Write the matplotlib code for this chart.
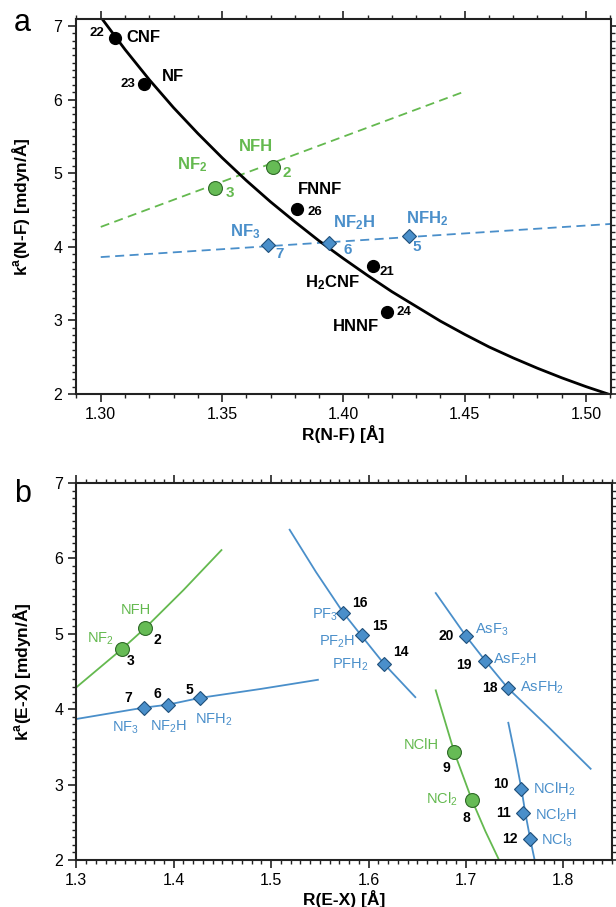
import matplotlib
matplotlib.use("Agg")
import matplotlib.pyplot as plt
from matplotlib.ticker import MultipleLocator

plt.rcParams['font.family'] = ['Liberation Sans', 'DejaVu Sans']
plt.rcParams['mathtext.default'] = 'regular'

GREEN = '#64b94f'
BLUE = '#4a8fca'
GREEN_FILL = '#66bb55'
BLUE_FILL = '#4a8fca'

# ---------------- panel a data ----------------
# black N-F points
a_black_R = [1.306, 1.318, 1.381, 1.412, 1.418]
a_black_k = [6.84, 6.21, 4.51, 3.74, 3.11]
a_black_num = ['22', '23', '26', '21', '24']
a_black_name = ['CNF', 'NF', 'FNNF', 'H$_2$CNF', 'HNNF']

a_green_R = [1.347, 1.371]
a_green_k = [4.80, 5.08]
a_green_num = ['3', '2']
a_green_name = ['NF$_2$', 'NFH']

a_blue_R = [1.369, 1.394, 1.427]
a_blue_k = [4.02, 4.05, 4.15]
a_blue_num = ['7', '6', '5']
a_blue_name = ['NF$_3$', 'NF$_2$H', 'NFH$_2$']

# black fit curve
a_curve_R = [1.300, 1.310, 1.320, 1.330, 1.340, 1.350, 1.360, 1.370, 1.380, 1.390, 1.400,
             1.410, 1.420, 1.430, 1.440, 1.450, 1.460, 1.470, 1.480, 1.490, 1.500, 1.510]
a_curve_k = [7.12, 6.68, 6.27, 5.89, 5.54, 5.21, 4.90, 4.61, 4.34, 4.08, 3.84,
             3.61, 3.39, 3.19, 2.99, 2.81, 2.64, 2.49, 2.35, 2.22, 2.10, 1.99]
a_green_line_R = [1.30, 1.45]
a_green_line_k = [4.27, 6.11]
a_blue_line_R = [1.30, 1.51]
a_blue_line_k = [3.86, 4.31]

# ---------------- panel b data ----------------
b_green_R = [1.347, 1.371, 1.688, 1.706]
b_green_k = [4.80, 5.08, 3.43, 2.80]
b_green_num = ['3', '2', '9', '8']
b_green_name = ['NF$_2$', 'NFH', 'NClH', 'NCl$_2$']

b_blue_R = [1.369, 1.394, 1.427, 1.574, 1.593, 1.616, 1.700, 1.720, 1.743, 1.757, 1.759, 1.766]
b_blue_k = [4.02, 4.06, 4.15, 5.28, 4.98, 4.60, 4.97, 4.64, 4.28, 2.94, 2.62, 2.28]
b_blue_num = ['7', '6', '5', '16', '15', '14', '20', '19', '18', '10', '11', '12']
b_blue_name = ['NF$_3$', 'NF$_2$H', 'NFH$_2$', 'PF$_3$', 'PF$_2$H', 'PFH$_2$',
               'AsF$_3$', 'AsF$_2$H', 'AsFH$_2$', 'NClH$_2$', 'NCl$_2$H', 'NCl$_3$']

b_nf_green_R = [1.300, 1.347, 1.371, 1.410, 1.449]
b_nf_green_k = [4.29, 4.80, 5.08, 5.58, 6.11]
b_nf_blue_R = [1.300, 1.369, 1.394, 1.427, 1.490, 1.548]
b_nf_blue_k = [3.87, 4.02, 4.06, 4.15, 4.27, 4.39]
b_pf_R = [1.519, 1.546, 1.574, 1.593, 1.616, 1.648]
b_pf_k = [6.38, 5.82, 5.28, 4.97, 4.60, 4.16]
b_as_R = [1.669, 1.700, 1.720, 1.743, 1.785, 1.828]
b_as_k = [5.54, 4.97, 4.64, 4.28, 3.76, 3.21]
b_ncl_green_R = [1.669, 1.688, 1.706, 1.720, 1.734]
b_ncl_green_k = [4.25, 3.43, 2.80, 2.38, 2.00]
b_ncl_blue_R = [1.7435, 1.751, 1.757, 1.761, 1.766, 1.7705]
b_ncl_blue_k = [3.82, 3.35, 2.94, 2.62, 2.28, 2.00]

# label centre offsets in pixels from the marker (number, name)
a_black_off = [((-18, 5), (28, 0)), ((-16, 0), (29, 8)), ((18, -3), (23, 20)),
               ((14, -6), (-40, -17)), ((17, 0), (-31, -14))]
a_green_off = [((15, -5), (-23, 23)), ((14, -6), (-17, 21))]
a_blue_off = [((11, -9), (-23, 14)), ((19, -7), (25, 20)), ((8, -11), (18, 17))]

b_green_off = [((8, -12), (-22, 10)), ((12, -12), (-10, 18)), ((-8, -16), (-33, 7)), ((-5, -18), (-30, 0))]
b_blue_off = [((-15, 10), (-18, -20)), ((-11, 11), (1, -22)), ((-11, 8), (14, -22)),
              ((17, 10), (-18, -2)), ((18, 9), (-25, -6)), ((17, 12), (-34, -1)),
              ((-20, 0), (26, 6)), ((-22, -4), (29, 1)), ((-18, 0), (34, 0)),
              ((-21, 5), (33, 0)), ((-20, 0), (33, -2)), ((-20, 0), (27, -1))]


def style_axes(ax, xlim, ylim, xmaj, xmin, xfmt):
    ax.set_xlim(*xlim)
    ax.set_ylim(*ylim)
    ax.xaxis.set_major_locator(MultipleLocator(xmaj))
    ax.xaxis.set_minor_locator(MultipleLocator(xmin))
    ax.yaxis.set_major_locator(MultipleLocator(1))
    ax.yaxis.set_minor_locator(MultipleLocator(0.1))
    ax.xaxis.set_major_formatter(plt.FormatStrFormatter(xfmt))
    ax.tick_params(which='both', direction='out', top=True, right=True,
                   labelsize=11.5, width=1.2, color='#222222')
    ax.tick_params(which='major', length=6)
    ax.tick_params(which='minor', length=3, width=1.0)
    for s in ax.spines.values():
        s.set_linewidth(1.5)
        s.set_color('#222222')


def label_points(ax, R, k, nums, names, offs, numcolor, namecolor, numsize, namesize, numweight, nameweight):
    for x, y, n, nm, (on, om) in zip(R, k, nums, names, offs):
        ax.annotate(n, (x, y), xytext=on, textcoords='offset pixels', ha='center', va='center',
                    color=numcolor, fontsize=numsize, fontweight=numweight)
        ax.annotate(nm, (x, y), xytext=om, textcoords='offset pixels', ha='center', va='center',
                    color=namecolor, fontsize=namesize, fontweight=nameweight)


fig = plt.figure(figsize=(6.16, 9.07), dpi=100)

# ---------------- panel a ----------------
ax1 = fig.add_axes([0.1226, 0.5656, 0.8693, 0.4135])
style_axes(ax1, (1.2896, 1.5103), (2, 7.095), 0.05, 0.01, '%.2f')
ax1.plot(a_green_line_R, a_green_line_k, '--', color=GREEN, lw=1.3, dashes=(5, 3))
ax1.plot(a_blue_line_R, a_blue_line_k, '--', color=BLUE, lw=1.3, dashes=(5, 3))
ax1.plot(a_curve_R, a_curve_k, '-', color='black', lw=2)
ax1.plot(a_black_R, a_black_k, 'o', color='black', ms=8.5, zorder=5)
ax1.plot(a_green_R, a_green_k, 'o', mfc=GREEN_FILL, mec='#2f6a28', mew=0.8, ms=10, zorder=5)
ax1.plot(a_blue_R, a_blue_k, 'D', mfc=BLUE_FILL, mec='#1f4f7a', mew=0.8, ms=6.8, zorder=5)
label_points(ax1, a_black_R, a_black_k, a_black_num, a_black_name, a_black_off,
             'black', 'black', 9.5, 12, 'bold', 'bold')
label_points(ax1, a_green_R, a_green_k, a_green_num, a_green_name, a_green_off,
             GREEN, GREEN, 11, 12, 'bold', 'bold')
label_points(ax1, a_blue_R, a_blue_k, a_blue_num, a_blue_name, a_blue_off,
             BLUE, BLUE, 11, 12, 'bold', 'bold')
ax1.set_xlabel('R(N-F) [Å]', fontsize=12.5, fontweight='bold', labelpad=2)
ax1.set_ylabel('k$^a$(N-F) [mdyn/Å]', fontsize=12.5, fontweight='bold', labelpad=15)
fig.text(0.036, 0.975, 'a', fontsize=22, va='center', ha='center')

# ---------------- panel b ----------------
ax2 = fig.add_axes([0.1239, 0.0518, 0.8697, 0.4157])
style_axes(ax2, (1.3, 1.85), (2, 7), 0.1, 0.01, '%.1f')
for R, k, c in [(b_nf_green_R, b_nf_green_k, GREEN), (b_nf_blue_R, b_nf_blue_k, BLUE),
                (b_pf_R, b_pf_k, BLUE), (b_as_R, b_as_k, BLUE),
                (b_ncl_green_R, b_ncl_green_k, GREEN), (b_ncl_blue_R, b_ncl_blue_k, BLUE)]:
    ax2.plot(R, k, '-', color=c, lw=1.3)
ax2.plot(b_green_R, b_green_k, 'o', mfc=GREEN_FILL, mec='#2f6a28', mew=0.8, ms=10, zorder=5)
ax2.plot(b_blue_R, b_blue_k, 'D', mfc=BLUE_FILL, mec='#1f4f7a', mew=0.8, ms=6.8, zorder=5)
label_points(ax2, b_green_R, b_green_k, b_green_num, b_green_name, b_green_off,
             'black', GREEN, 10, 10.5, 'bold', 'normal')
label_points(ax2, b_blue_R, b_blue_k, b_blue_num, b_blue_name, b_blue_off,
             'black', BLUE, 10, 10.5, 'bold', 'normal')
ax2.set_xlabel('R(E-X) [Å]', fontsize=12.5, fontweight='bold', labelpad=1)
ax2.set_ylabel('k$^a$(E-X) [mdyn/Å]', fontsize=12.5, fontweight='bold', labelpad=15)
fig.text(0.036, 0.455, 'b', fontsize=22, va='center', ha='center')

fig.savefig('out.png', dpi=100)
